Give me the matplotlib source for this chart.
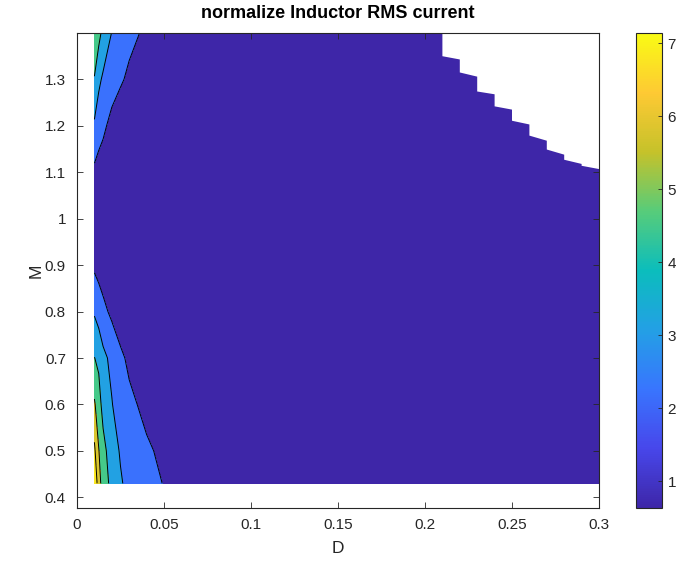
import numpy as np
import matplotlib.pyplot as plt
from matplotlib.colors import LinearSegmentedColormap, Normalize
from matplotlib.cm import ScalarMappable

plt.rcParams['font.family'] = ['Liberation Sans', 'DejaVu Sans']

# duty cycle (columns) and voltage gain (rows) of the sweep
D = [0.01, 0.0125, 0.015, 0.02, 0.025, 0.03, 0.04, 0.05, 0.06, 0.30]
M = [0.43, 0.50, 0.60, 0.70, 0.80, 0.90, 1.00, 1.10, 1.20, 1.30, 1.40]

# normalized inductor RMS current, one row per M value
I_rms = [
    [7.05, 5.34, 4.59, 3.66, 3.10, 2.72, 2.26, 1.97, 1.79, 1.04],
    [6.20, 5.04, 4.33, 3.44, 2.91, 2.55, 2.11, 1.84, 1.66, 0.95],
    [5.13, 4.40, 3.65, 3.05, 2.47, 2.17, 1.80, 1.58, 1.44, 0.84],
    [4.02, 3.80, 3.25, 2.75, 2.15, 1.85, 1.60, 1.45, 1.35, 0.80],
    [2.89, 2.55, 2.25, 1.80, 1.55, 1.40, 1.25, 1.15, 1.10, 0.75],
    [1.83, 1.65, 1.50, 1.35, 1.20, 1.10, 1.00, 0.95, 0.90, 0.70],
    [1.35, 1.25, 1.15, 1.05, 0.98, 0.92, 0.85, 0.80, 0.78, 0.65],
    [1.80, 1.60, 1.50, 1.30, 1.18, 1.08, 0.95, 0.88, 0.84, 0.68],
    [2.85, 2.45, 2.20, 1.70, 1.50, 1.38, 1.20, 1.10, 1.05, 0.72],
    [3.93, 3.20, 2.85, 2.45, 2.10, 1.85, 1.55, 1.40, 1.30, 0.80],
    [4.95, 4.31, 3.71, 2.97, 2.52, 2.22, 1.85, 1.63, 1.48, 0.88],
]
line_levels = [2, 3, 4, 5, 6]

# upper boundary of the valid operating region (no solution above it)
edge_d = [0.21, 0.22, 0.23, 0.24, 0.25, 0.26, 0.27, 0.28, 0.29, 0.30]
edge_m_hi = [1.400, 1.343, 1.306, 1.268, 1.235, 1.203, 1.168, 1.138, 1.118, 1.107]
edge_m_lo = [1.350, 1.315, 1.274, 1.242, 1.211, 1.179, 1.149, 1.127, 1.114, 1.105]

# MATLAB parula
parula = LinearSegmentedColormap.from_list('parula', [
    (0.2422, 0.1504, 0.6603), (0.2803, 0.2782, 0.9221), (0.2206, 0.4603, 0.9973),
    (0.1380, 0.6276, 0.8973), (0.0433, 0.7411, 0.7394), (0.3406, 0.8008, 0.4789),
    (0.7738, 0.7598, 0.1646), (0.9952, 0.7893, 0.2028), (0.9769, 0.9839, 0.0805)])
norm = Normalize(vmin=0.636, vmax=7.137)
band_values = [0.636, 2.2, 3.1, 4.5, 5.8, 6.8]
band_colors = [parula(norm(v)) for v in band_values]

ink = '#262626'
fig = plt.figure(figsize=(6.82, 5.63), dpi=100)
ax = fig.add_axes([0.1129, 0.0977, 0.7654, 0.8437])

Dg, Mg = np.meshgrid(D, M)
Z = np.array(I_rms)
ax.contourf(Dg, Mg, Z, levels=[0.5] + line_levels + [7.5], colors=band_colors)
ax.contour(Dg, Mg, Z, levels=line_levels, colors='k', linewidths=0.7)

# blank out the region without a valid solution
px, py = [edge_d[0]], [1.5]
for d, hi, lo in zip(edge_d, edge_m_hi, edge_m_lo):
    px += [d, d]
    py += [hi, lo]
px += [0.31, 0.31]
py += [edge_m_lo[-1], 1.5]
ax.fill(px, py, color='white', lw=0, zorder=2)

ax.set_xlim(0, 0.3)
ax.set_ylim(0.377, 1.40)
xt = [0, 0.05, 0.1, 0.15, 0.2, 0.25, 0.3]
ax.set_xticks(xt, ['0', '0.05', '0.1', '0.15', '0.2', '0.25', '0.3'])
yt = [0.4, 0.5, 0.6, 0.7, 0.8, 0.9, 1.0, 1.1, 1.2, 1.3]
ax.set_yticks(yt, ['0.4', '0.5', '0.6', '0.7', '0.8', '0.9', '1', '1.1', '1.2', '1.3'])
ax.tick_params(direction='in', length=4.5, width=0.6, colors=ink, labelsize=11,
               top=True, right=True)
ax.tick_params(axis='x', pad=7)
ax.tick_params(axis='y', pad=8)
for s in ax.spines.values():
    s.set_color(ink)
    s.set_linewidth(0.8)
    s.set_zorder(3)

ax.set_xlabel('D', fontsize=12.5, color=ink, labelpad=7)
ax.set_ylabel('M', fontsize=12.5, color=ink, labelpad=1)
ax.set_title('normalize Inductor RMS current', fontsize=13, fontweight='bold', pad=11)

cax = fig.add_axes([0.9326, 0.0977, 0.0381, 0.8437])
cb = fig.colorbar(ScalarMappable(norm=norm, cmap=parula), cax=cax, ticks=range(1, 8))
cb.ax.tick_params(direction='in', length=3, width=0.6, colors=ink, labelsize=11, pad=4)
cb.outline.set_edgecolor(ink)
cb.outline.set_linewidth(0.8)

fig.savefig('out.png', dpi=100)
